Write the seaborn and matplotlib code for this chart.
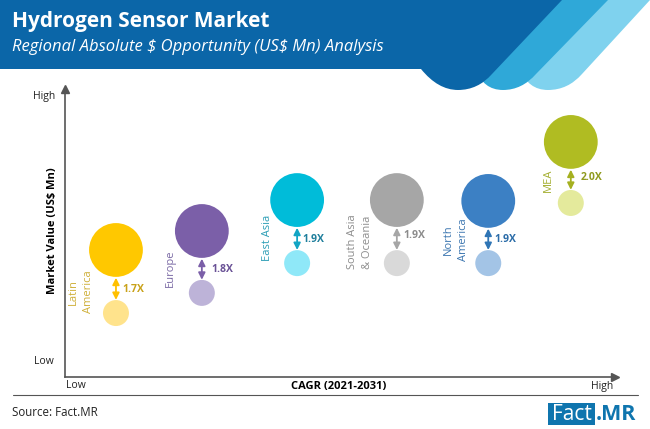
import matplotlib
matplotlib.use("Agg")
from matplotlib import pyplot as plt
from matplotlib.patches import PathPatch, Rectangle
from matplotlib.path import Path
import pandas as pd
import seaborn as sns

# chart values (0-100 on both unlabelled scales)
regions = ["Latin\nAmerica", "Europe", "East Asia", "South Asia\n& Oceania", "North\nAmerica", "MEA"]
cagr = [9.2, 24.7, 41.9, 59.9, 76.4, 91.3]
value_2031 = [43.5, 50.0, 60.6, 60.6, 60.3, 80.5]
value_2021 = [21.9, 28.8, 39.0, 39.0, 39.0, 59.6]
multiples = ["1.7X", "1.8X", "1.9X", "1.9X", "1.9X", "2.0X"]

dark_colors = ["#FFC800", "#7B5FA8", "#00BCD9", "#A6A6A6", "#3C80C4", "#B0BC22"]
light_colors = ["#FFE38C", "#BDB3D8", "#8FE8F8", "#D9D9D9", "#A3C4E6", "#E4EA9C"]
arrow_colors = ["#FFC000", "#7B5FA8", "#12A5C4", "#A6A6A6", "#2F75B5", "#A5B020"]
multiple_colors = ["#C9A21A", "#6A5296", "#1F7F9C", "#8C8C8C", "#2B6CA8", "#8F9A1E"]
label_colors = ["#CFB03A", "#7B6AA5", "#2A9DB5", "#8C8C8C", "#3C76B0", "#A3AE2E"]

# label layout in figure pixels
label_pos = [(81, 292), (170, 268), (267, 238), (360, 242), (456, 240), (548, 180)]
multiple_pos = [(133, 289), (222, 269), (313, 240), (414, 236), (505, 240), (592, 178)]

BLUE = "#0B66A8"
sns.set_style("white")
plt.rcParams["font.family"] = ["Open Sans", "DejaVu Sans"]

fig = plt.figure(figsize=(6.5, 4.29), dpi=100)

# background layer in pixels, for the banner and all the text
bg = fig.add_axes([0, 0, 1, 1])
bg.set_xlim(0, 650)
bg.set_ylim(429, 0)
bg.axis("off")


def tab(x_top_left, x_top_right, x_low, x_mid, x_start, color):
    verts = [(x_top_left, 0), (x_top_right, 0), (x_low, 74), (x_low - 14, 90), (x_mid, 90),
             (x_mid - 20, 90), (x_start, 69), (x_top_left, 0)]
    codes = [Path.MOVETO, Path.LINETO, Path.LINETO, Path.CURVE3, Path.CURVE3,
             Path.CURVE3, Path.CURVE3, Path.CLOSEPOLY]
    bg.add_patch(PathPatch(Path(verts, codes), facecolor=color, edgecolor="none"))


tab(590, 650, 582, 548, 520, "#7FD2EE")
tab(540, 608, 536, 503, 476, "#2FA8D8")
tab(400, 562, 492, 458, 421, BLUE)
bg.add_patch(Rectangle((0, 0), 425, 69, facecolor=BLUE, edgecolor="none"))

bg.text(12, 22, "Hydrogen Sensor Market", color="white", fontsize=15, fontweight="bold", va="center")
bg.text(12, 47, "Regional Absolute \\$ Opportunity (US\\$ Mn) Analysis", color="white", fontsize=12,
        fontstyle="italic", va="center")

bg.text(44, 96, "High", fontsize=7.5, color="#222222", ha="center", va="center")
bg.text(44, 361, "Low", fontsize=7.5, color="#222222", ha="center", va="center")
bg.text(76, 386, "Low", fontsize=7.5, color="#222222", ha="center", va="center")
bg.text(602, 386, "High", fontsize=7.5, color="#222222", ha="center", va="center")
bg.text(339, 386, "CAGR (2021-2031)", fontsize=8, fontweight="bold", color="black", ha="center", va="center")
bg.text(52, 231, "Market Value (US\\$ Mn)", fontsize=8, fontweight="bold", color="black",
        rotation=90, ha="center", va="center")

bg.plot([13, 638], [395, 395], color="#555555", lw=0.8)
bg.text(12, 413, "Source: Fact.MR", fontsize=8.3, color="#222222", va="center")
bg.add_patch(Rectangle((548, 403), 47, 22, facecolor="#0F75AE", edgecolor="none"))
bg.text(571.5, 414, "Fact", fontsize=15, color="white", ha="center", va="center")
bg.text(596, 414, ".MR", fontsize=15.5, color="#0F75AE", fontweight="bold", va="center")

for name, pos, col in zip(regions, label_pos, label_colors):
    bg.text(pos[0], pos[1], name, fontsize=8, color=col, rotation=90, ha="center", va="center",
            multialignment="center", linespacing=1.6)
for mult, pos, col in zip(multiples, multiple_pos, multiple_colors):
    bg.text(pos[0], pos[1], mult, fontsize=7.5, fontweight="bold", color=col, ha="center", va="center")

# chart layer: origin at (65, 377), runs to (619, 85)
ax = fig.add_axes([65 / 650, 1 - 377 / 429, 554 / 650, 292 / 429])
ax.patch.set_alpha(0)
ax.set_xlim(0, 100)
ax.set_ylim(0, 100)

df = pd.DataFrame({"region": regions, "cagr": cagr, "v2031": value_2031, "v2021": value_2021})
sns.scatterplot(data=df, x="cagr", y="v2031", hue="region", palette=dark_colors, s=1500,
                linewidth=0, legend=False, ax=ax, clip_on=False)
sns.scatterplot(data=df, x="cagr", y="v2021", hue="region", palette=light_colors, s=350,
                linewidth=0, legend=False, ax=ax, clip_on=False)

# double arrows between each pair of bubbles
for x, hi, lo, col in zip(cagr, value_2031, value_2021, arrow_colors):
    ax.annotate("", xy=(x, hi - 9.5), xytext=(x, lo + 4.5),
                arrowprops=dict(arrowstyle="<|-|>", color=col, lw=1.3, mutation_scale=10,
                                shrinkA=0, shrinkB=0))

ax.set_xticks([])
ax.set_yticks([])
ax.set_xlabel("")
ax.set_ylabel("")
sns.despine(ax=ax)
for side in ["left", "bottom"]:
    ax.spines[side].set_color("#555555")
    ax.spines[side].set_linewidth(1.2)
ax.spines["bottom"].set_bounds(0, 99)
ax.spines["left"].set_bounds(0, 98.5)
ax.plot(0.992, 0, ">", color="#555555", ms=6, transform=ax.transAxes, clip_on=False)
ax.plot(0, 0.985, "^", color="#555555", ms=6, transform=ax.transAxes, clip_on=False)

fig.savefig("out.png", dpi=100)
